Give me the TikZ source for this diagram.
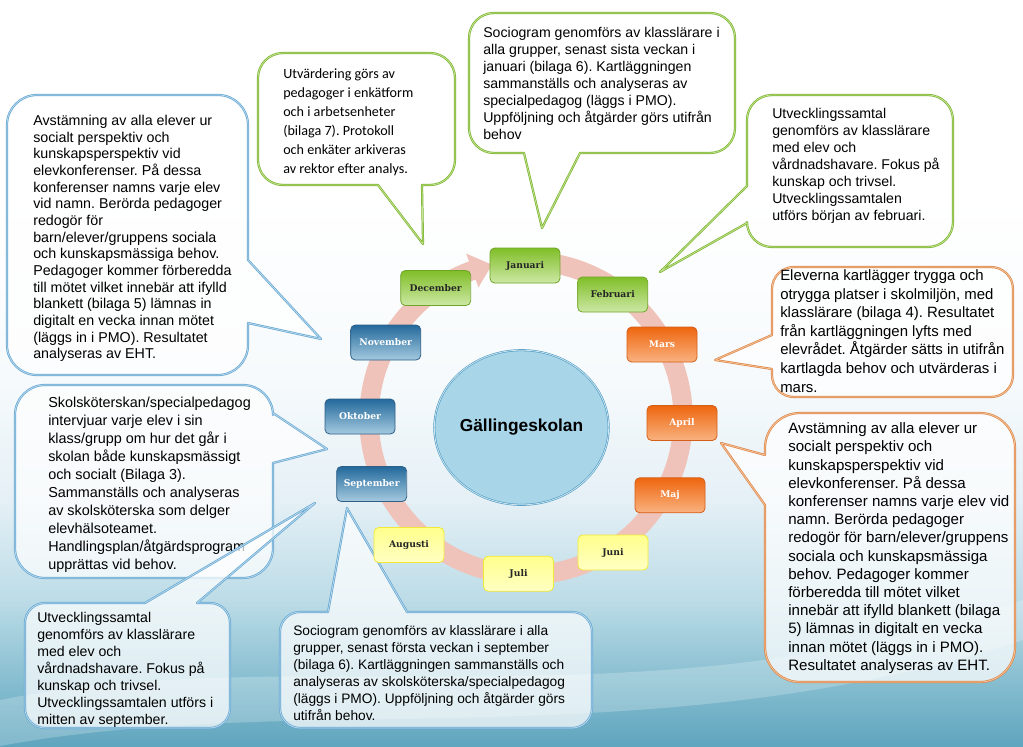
\documentclass[tikz,border=0pt]{standalone}
\usepackage{fontspec}
\setmainfont{Liberation Sans}
\newfontfamily\carl{Carlito}
\newfontfamily\mfont{DejaVu Serif}
\usetikzlibrary{shapes.geometric}
\frenchspacing

\definecolor{bgbot}{RGB}{95,165,190}
\definecolor{bgma}{RGB}{135,190,208}
\definecolor{bgmb}{RGB}{188,220,231}
\definecolor{bgmc}{RGB}{229,240,246}
\definecolor{bgmd}{RGB}{246,250,252}
\pgfdeclareverticalshading{bgshade}{100bp}{color(0bp)=(bgbot); color(25bp)=(bgbot); color(29.4bp)=(bgma); color(34.8bp)=(bgmb); color(41.5bp)=(bgmc); color(49.5bp)=(bgmd); color(61.6bp)=(white); color(100bp)=(white)}

\definecolor{cgd}{RGB}{125,180,50}
\definecolor{cgl}{RGB}{195,228,145}
\definecolor{cbd}{RGB}{105,168,210}
\definecolor{cbl}{RGB}{185,218,238}
\definecolor{cod}{RGB}{222,135,75}
\definecolor{col}{RGB}{246,198,155}

\definecolor{mgtop}{RGB}{128,190,40}
\definecolor{mgbot}{RGB}{205,232,165}
\definecolor{mgdraw}{RGB}{110,165,40}
\definecolor{motop}{RGB}{238,102,15}
\definecolor{mobot}{RGB}{249,178,128}
\definecolor{modraw}{RGB}{212,95,25}
\definecolor{mbtop}{RGB}{35,105,155}
\definecolor{mbbot}{RGB}{165,202,224}
\definecolor{mbdraw}{RGB}{45,95,135}
\definecolor{mytop}{RGB}{255,255,140}
\definecolor{mybot}{RGB}{255,255,195}
\definecolor{mydraw}{RGB}{242,232,55}
\definecolor{ringc}{RGB}{240,195,186}
\definecolor{schfill}{RGB}{168,213,232}
\definecolor{schdraw}{RGB}{80,155,195}

\newcommand\bubblepath[9]{({#1+#5},#2) #6 -- ({#3-#5},#2) .. controls ({#3-0.448*#5},#2) and (#3,{#2+0.448*#5}) .. (#3,{#2+#5}) #7 -- (#3,{#4-#5}) .. controls (#3,{#4-0.448*#5}) and ({#3-0.448*#5},#4) .. ({#3-#5},#4) #8 -- ({#1+#5},#4) .. controls ({#1+0.448*#5},#4) and (#1,{#4-0.448*#5}) .. (#1,{#4-#5}) #9 -- (#1,{#2+#5}) .. controls (#1,{#2+0.448*#5}) and ({#1+0.448*#5},#2) .. ({#1+#5},#2) -- cycle}

\tikzset{
  bub/.style={fill=white, fill opacity=0.72, line width=0.55pt, double distance=0.55pt, line join=round},
  bgreen/.style={bub, draw=cgd, double=cgl},
  bblue/.style={bub, draw=cbd, double=cbl},
  borange/.style={bub, draw=cod, double=col},
  ctext/.style={anchor=north west, inner sep=0pt, align=left, text=black},
  month/.style={rounded corners=3.5pt, minimum width=52.5pt, minimum height=26.25pt, inner sep=0pt, font=\mfont\bfseries\fontsize{6.9}{8}\selectfont, line width=0.6pt},
  mgreen/.style={month, top color=mgtop, bottom color=mgbot, draw=mgdraw, text=black!85},
  morange/.style={month, top color=motop, bottom color=mobot, draw=modraw, text=white},
  mblue/.style={month, top color=mbtop, bottom color=mbbot, draw=mbdraw, text=white},
  myellow/.style={month, top color=mytop, bottom color=mybot, draw=mydraw, text=black!85},
  school/.style={ellipse, minimum width=125pt, minimum height=116pt, fill=schfill, draw=schdraw, double=schfill!60!white, line width=0.45pt, double distance=0.6pt, font=\bfseries\fontsize{13}{15}\selectfont, inner sep=0pt},
}

\begin{document}
\begin{tikzpicture}[x=0.75pt, y=-0.75pt]
\useasboundingbox (0,0) rectangle (1023,746);
% background
\shade[shading=bgshade] (0,0) rectangle (1023,746);
\fill[white, opacity=0.22] (0,700) .. controls (300,640) and (650,730) .. (1023,600) -- (1023,640) .. controls (650,760) and (300,690) .. (0,746) -- cycle;

% ring
\coordinate (rc) at (526,418);
\draw[ringc, line width=14.5pt] ([shift={(-80:157)}]rc) arc[start angle=-80, end angle=251, radius=157];
\fill[ringc] ([shift={(250:175)}]rc) -- ([shift={(257.5:157)}]rc) -- ([shift={(250:139)}]rc) -- cycle;

% callouts
\draw[bblue] \bubblepath{7}{95}{248}{375}{30}{}{-- (248,260) -- (321,339) -- (248,323)}{}{};
\node[ctext, font=\fontsize{10.7}{12.5}\selectfont] (t1) at (33,115) {Avstämning av alla elever ur\\socialt perspektiv och\\kunskapsperspektiv vid\\elevkonferenser. På dessa\\konferenser namns varje elev\\vid namn. Berörda pedagoger\\redogör för\\barn/elever/gruppens sociala\\och kunskapsmässiga behov.\\Pedagoger kommer förberedda\\till mötet vilket innebär att ifylld\\blankett (bilaga 5) lämnas in\\digitalt en vecka innan mötet\\(läggs in i PMO). Resultatet\\analyseras av EHT.};

\draw[bgreen] \bubblepath{258}{53}{455}{185}{25}{}{}{-- (422,185) -- (423,244) -- (378,185)}{};
\node[ctext, font=\carl\fontsize{10.6}{14.25}\selectfont] (t2) at (283,68) {Utvärdering görs av\\pedagoger i enkätform\\och i arbetsenheter\\(bilaga 7). Protokoll\\och enkäter arkiveras\\av rektor efter analys.};

\draw[bgreen] \bubblepath{469}{13}{735}{153}{25}{}{}{-- (580,153) -- (542,228) -- (524,153)}{};
\node[ctext, font=\fontsize{10.6}{12.7}\selectfont] (t3) at (483,27) {Sociogram genomförs av klasslärare i\\alla grupper, senast sista veckan i\\januari (bilaga 6). Kartläggningen\\sammanställs och analyseras av\\specialpedagog (läggs i PMO).\\Uppföljning och åtgärder görs utifrån\\behov};

\draw[bgreen] \bubblepath{747}{95}{953}{247}{25}{}{}{}{-- (747,223) -- (660,272) -- (747,186)};
\node[ctext, font=\fontsize{10.6}{12.75}\selectfont] (t4) at (772,108) {Utvecklingssamtal\\genomförs av klasslärare\\med elev och\\vårdnadshavare. Fokus på\\kunskap och trivsel.\\Utvecklingssamtalen\\utförs början av februari.};

\draw[borange] \bubblepath{772}{267}{1013}{397}{22}{}{}{}{-- (772,369) -- (715,360) -- (772,335)};
\node[ctext, font=\fontsize{11.2}{13.95}\selectfont] (t5) at (780,269.5) {Eleverna kartlägger trygga och\\otrygga platser i skolmiljön, med\\klasslärare (bilaga 4). Resultatet\\från kartläggningen lyfts med\\elevrådet. Åtgärder sätts in utifrån\\kartlagda behov och utvärderas i\\mars.};

\draw[borange] \bubblepath{765}{413}{1015}{682}{35}{}{}{}{-- (765,505) -- (721,443) -- (765,455)};
\node[ctext, font=\fontsize{11.3}{13.65}\selectfont] (t6) at (788,422.5) {Avstämning av alla elever ur\\socialt perspektiv och\\kunskapsperspektiv vid\\elevkonferenser. På dessa\\konferenser namns varje elev vid\\namn. Berörda pedagoger\\redogör för barn/elever/gruppens\\sociala och kunskapsmässiga\\behov. Pedagoger kommer\\förberedda till mötet vilket\\innebär att ifylld blankett (bilaga\\5) lämnas in digitalt en vecka\\innan mötet (läggs in i PMO).\\Resultatet analyseras av EHT.};

\draw[bblue] \bubblepath{15}{385}{273}{578}{30}{}{-- (273,413) -- (327,449) -- (273,463)}{}{};
\node[ctext, font=\fontsize{10.8}{13.5}\selectfont] (t7) at (48,397) {Skolsköterskan/specialpedagog\\intervjuar varje elev i sin\\klass/grupp om hur det går i\\skolan både kunskapsmässigt\\och socialt (Bilaga 3).\\Sammanställs och analyseras\\av skolsköterska som delger\\elevhälsoteamet.\\Handlingsplan/åtgärdsprogram\\upprättas vid behov.};

\draw[bblue] \bubblepath{25}{603}{230}{728}{20}{-- (145,603) -- (315,503) -- (197,603)}{}{}{};
\node[ctext, font=\fontsize{10.6}{12.7}\selectfont] (t8) at (37,612) {Utvecklingssamtal\\genomförs av klasslärare\\med elev och\\vårdnadshavare. Fokus på\\kunskap och trivsel.\\Utvecklingssamtalen utförs i\\mitten av september.};

\draw[bblue] \bubblepath{280}{612}{592}{728}{20}{-- (328,612) -- (347,508) -- (407,612)}{}{}{};
\node[ctext, font=\fontsize{10.3}{12.75}\selectfont] (t9) at (293,625) {Sociogram genomförs av klasslärare i alla\\grupper, senast första veckan i september\\(bilaga 6). Kartläggningen sammanställs och\\analyseras av skolsköterska/specialpedagog\\(läggs i PMO). Uppföljning och åtgärder görs\\utifrån behov.};

% centre
\node[school] (school) at (521.5,427.5) {Gällingeskolan};

% months
\node[mgreen] (jan) at (525,265.5) {Januari};
\node[mgreen] (feb) at (612.7,294.5) {Februari};
\node[morange] (mar) at (662,344.5) {Mars};
\node[morange] (apr) at (682,423) {April};
\node[morange] (maj) at (670,495.3) {Maj};
\node[myellow] (jun) at (613,552.5) {Juni};
\node[myellow] (jul) at (518.5,573.7) {Juli};
\node[myellow] (aug) at (409,545) {Augusti};
\node[mblue] (sep) at (371.7,484) {September};
\node[mblue] (okt) at (360,416.5) {Oktober};
\node[mblue] (nov) at (385.7,342.5) {November};
\node[mgreen] (dec) at (435.7,288) {December};
\end{tikzpicture}
\end{document}
